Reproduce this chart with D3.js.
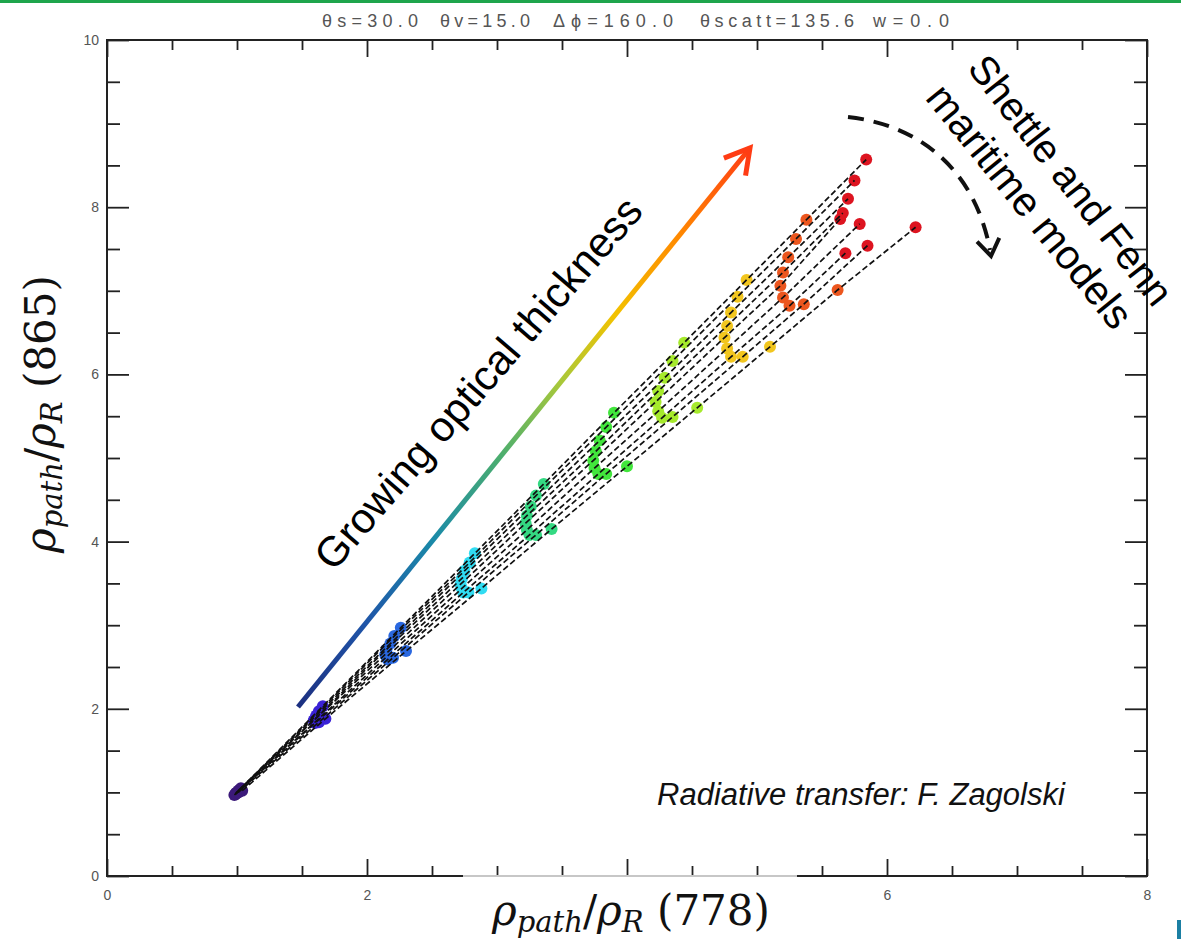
<!DOCTYPE html>
<html>
<head>
<meta charset="utf-8">
<script src="https://cdn.jsdelivr.net/npm/d3@7"></script>
<style>
  body { margin: 0; background: #fff; }
</style>
</head>
<body>
<div id="chart"></div>
<script>
// dot colour for each optical thickness level (low -> high)
var levelColors = ["#3c1a7a", "#3a22d6", "#2a68e0", "#30dcf2", "#34d982",
                   "#42e63c", "#a6ea2c", "#f2c61e", "#ec561e", "#dd1420"];

// one array per aerosol model: [rho778, rho865] at each optical thickness level
var model0 = [[1.03,1.05],[1.66,2.03],[2.26,2.97],[2.83,3.86],[3.36,4.69],[3.90,5.54],[4.44,6.38],[4.92,7.13],[5.38,7.85],[5.84,8.57]];
var model1 = [[1.02,1.03],[1.63,1.97],[2.21,2.87],[2.79,3.75],[3.30,4.55],[3.84,5.37],[4.35,6.16],[4.85,6.93],[5.30,7.62],[5.75,8.32]];
var model2 = [[1.01,1.02],[1.61,1.92],[2.18,2.78],[2.75,3.65],[3.26,4.42],[3.79,5.21],[4.29,5.96],[4.80,6.74],[5.24,7.40],[5.70,8.10]];
var model3 = [[1.00,1.00],[1.60,1.88],[2.15,2.71],[2.73,3.56],[3.23,4.31],[3.76,5.08],[4.24,5.80],[4.77,6.58],[5.20,7.22],[5.66,7.93]];
var model4 = [[0.99,0.99],[1.59,1.86],[2.14,2.65],[2.72,3.49],[3.22,4.22],[3.74,4.97],[4.22,5.67],[4.75,6.44],[5.18,7.06],[5.64,7.86]];
var model5 = [[0.98,0.97],[1.60,1.84],[2.15,2.62],[2.73,3.44],[3.23,4.14],[3.75,4.88],[4.24,5.56],[4.77,6.31],[5.20,6.92],[5.79,7.80]];
var model6 = [[0.99,0.98],[1.60,1.83],[2.16,2.59],[2.74,3.39],[3.25,4.08],[3.78,4.81],[4.27,5.48],[4.80,6.21],[5.25,6.82],[5.68,7.45]];
var model7 = [[1.01,1.00],[1.63,1.84],[2.20,2.61],[2.78,3.39],[3.30,4.08],[3.84,4.81],[4.35,5.49],[4.89,6.21],[5.36,6.84],[5.85,7.54]];
var model8 = [[1.04,1.02],[1.68,1.88],[2.30,2.69],[2.88,3.44],[3.42,4.15],[4.00,4.90],[4.54,5.60],[5.10,6.33],[5.62,7.01],[6.22,7.76]];
var models = [model0, model1, model2, model3, model4, model5, model6, model7, model8];

// ticks
var xMajor = [0, 2, 4, 6, 8];
var xMinor = [0.5, 1, 1.5, 2.5, 3, 3.5, 4.5, 5, 5.5, 6.5, 7, 7.5];
var yMajor = [0, 2, 4, 6, 8, 10];
var yMinor = [0.5, 1, 1.5, 2.5, 3, 3.5, 4.5, 5, 5.5, 6.5, 7, 7.5, 8.5, 9, 9.5];

// geometry title, one piece per parameter
var titleParts = ["\u03b8s=30.0", "\u03b8v=15.0", "\u0394\u03d5=160.0", "\u03b8scatt=135.6", "w=0.0"];
var titleStart = [322, 440, 553, 700, 873];
var titleWidth = [96, 90, 120, 154, 76];

var W = 1181, H = 939;
var svg = d3.select("#chart").append("svg")
    .attr("width", W).attr("height", H)
    .style("font-family", "'Liberation Sans', Arial, sans-serif");

var x = d3.scaleLinear().domain([0, 8]).range([107, 1147]);
var y = d3.scaleLinear().domain([0, 10]).range([876, 40]);

// green strip at top of slide
svg.append("rect").attr("x", 0).attr("y", 0).attr("width", W).attr("height", 3).attr("fill", "#1ea54c");
svg.append("rect").attr("x", 1177).attr("y", 920).attr("width", 4).attr("height", 19).attr("fill", "#1b7fa3");

// title
svg.append("g").selectAll("text")
    .data(titleParts)
    .enter().append("text")
    .attr("x", function (d, i) { return titleStart[i]; })
    .attr("y", 27)
    .attr("textLength", function (d, i) { return titleWidth[i]; })
    .attr("lengthAdjust", "spacing")
    .style("font-size", "18px").style("fill", "#555")
    .text(function (d) { return d; });

// dots
models.forEach(function (m) {
    svg.append("g").selectAll("circle")
        .data(m)
        .enter().append("circle")
        .attr("cx", function (d) { return x(d[0]); })
        .attr("cy", function (d) { return y(d[1]); })
        .attr("r", 6)
        .style("fill", function (d, i) { return levelColors[i]; });
});

// dashed model lines
var line = d3.line().x(function (d) { return x(d[0]); }).y(function (d) { return y(d[1]); });
models.forEach(function (m) {
    svg.append("path")
        .attr("d", line(m))
        .style("fill", "none")
        .style("stroke", "#111")
        .style("stroke-width", 1.7)
        .style("stroke-dasharray", "6,3");
});

// frame
svg.append("rect")
    .attr("x", x(0)).attr("y", y(10))
    .attr("width", x(8) - x(0)).attr("height", y(0) - y(10))
    .style("fill", "none").style("stroke", "#222").style("stroke-width", 2);

function styleAxis(g) {
    g.select(".domain").remove();
    g.selectAll("line").style("stroke", "#222").style("stroke-width", 1.8);
    g.selectAll("text").style("font-size", "14px").style("fill", "#555")
        .style("font-family", "'Liberation Sans', Arial, sans-serif");
}

svg.append("g").attr("transform", "translate(0," + y(0) + ")")
    .call(d3.axisBottom(x).tickValues(xMinor).tickSize(-10).tickFormat("")).call(styleAxis);
svg.append("g").attr("transform", "translate(0," + y(0) + ")")
    .call(d3.axisBottom(x).tickValues(xMajor).tickSize(-17).tickPadding(14).tickFormat(d3.format("d"))).call(styleAxis);
svg.append("g").attr("transform", "translate(0," + y(10) + ")")
    .call(d3.axisTop(x).tickValues(xMinor).tickSize(-10).tickFormat("")).call(styleAxis);
svg.append("g").attr("transform", "translate(0," + y(10) + ")")
    .call(d3.axisTop(x).tickValues(xMajor).tickSize(-17).tickFormat("")).call(styleAxis);

svg.append("g").attr("transform", "translate(" + x(0) + ",0)")
    .call(d3.axisLeft(y).tickValues(yMinor).tickSize(-13).tickFormat("")).call(styleAxis);
svg.append("g").attr("transform", "translate(" + x(0) + ",0)")
    .call(d3.axisLeft(y).tickValues(yMajor).tickSize(-22).tickPadding(8).tickFormat(d3.format("d"))).call(styleAxis);
svg.append("g").attr("transform", "translate(" + x(8) + ",0)")
    .call(d3.axisRight(y).tickValues(yMinor).tickSize(-13).tickFormat("")).call(styleAxis);
svg.append("g").attr("transform", "translate(" + x(8) + ",0)")
    .call(d3.axisRight(y).tickValues(yMajor).tickSize(-22).tickFormat("")).call(styleAxis);

// white box behind the x title, hiding part of the axis line and the "4"
svg.append("rect").attr("x", 463).attr("y", 875).attr("width", 334).attr("height", 2)
    .style("fill", "#fff").style("opacity", 0.75);
svg.append("rect").attr("x", 463).attr("y", 877).attr("width", 334).attr("height", 62)
    .style("fill", "#fff");

// axis titles
function mathLabel(g, num) {
    var t = g.append("text")
        .attr("text-anchor", "middle")
        .style("font-family", "'DejaVu Serif', serif")
        .style("font-size", "42px")
        .style("fill", "#111");
    t.append("tspan").style("font-style", "italic").text("\u03c1");
    t.append("tspan").style("font-style", "italic").style("font-size", "29px").attr("dy", 7).text("path");
    t.append("tspan").attr("dy", -7).text("/");
    t.append("tspan").style("font-style", "italic").text("\u03c1");
    t.append("tspan").style("font-style", "italic").style("font-size", "29px").attr("dy", 7).text("R");
    t.append("tspan").attr("dy", -7).text(" (" + num + ")");
}
mathLabel(svg.append("g").attr("transform", "translate(631,925)"), "778");
mathLabel(svg.append("g").attr("transform", "translate(55,414) rotate(-90)"), "865");

// growing optical thickness arrow
var a0 = [298, 707], a1 = [750, 148];
var grad = svg.append("defs").append("linearGradient")
    .attr("id", "grow").attr("gradientUnits", "userSpaceOnUse")
    .attr("x1", a0[0]).attr("y1", a0[1]).attr("x2", a1[0]).attr("y2", a1[1]);
[[0, "#1c2f80"], [0.15, "#1f55a8"], [0.3, "#1a8aa8"], [0.45, "#4cae6e"], [0.58, "#a8c83a"],
 [0.7, "#f2c200"], [0.84, "#ff8a00"], [1, "#ff3c14"]].forEach(function (s) {
    grad.append("stop").attr("offset", s[0]).attr("stop-color", s[1]);
});
svg.append("line")
    .attr("x1", a0[0]).attr("y1", a0[1]).attr("x2", a1[0]).attr("y2", a1[1])
    .style("stroke", "url(#grow)").style("stroke-width", 5);
var ang = Math.atan2(a1[1] - a0[1], a1[0] - a0[0]);
function arm(tip, a, da, len) {
    return [tip[0] - len * Math.cos(a + da), tip[1] - len * Math.sin(a + da)];
}
svg.append("path")
    .attr("d", "M" + arm(a1, ang, 0.52, 28) + "L" + a1 + "L" + arm(a1, ang, -0.52, 28))
    .style("fill", "none").style("stroke", "#ff3c14").style("stroke-width", 5);

svg.append("text")
    .attr("transform", "translate(478,383) rotate(-49.2)")
    .attr("text-anchor", "middle").attr("dy", "0.35em")
    .style("font-size", "42px").style("fill", "#000")
    .text("Growing optical thickness");

// Shettle and Fenn curved dashed arrow
var c0 = [848, 117], c1 = [920, 125], c2 = [975, 170], c3 = [990, 250];
svg.append("path")
    .attr("d", "M" + c0 + "C" + c1 + " " + c2 + " " + c3)
    .style("fill", "none").style("stroke", "#111").style("stroke-width", 4)
    .style("stroke-dasharray", "16,10");
var ang2 = Math.atan2(c3[1] - c2[1] + 6, c3[0] - c2[0]);
var tip2 = [c3[0] + 1, c3[1] + 6];
svg.append("path")
    .attr("d", "M" + arm(tip2, ang2, 0.6, 20) + "L" + tip2 + "L" + arm(tip2, ang2, -0.6, 20))
    .style("fill", "none").style("stroke", "#111").style("stroke-width", 4);

svg.append("text")
    .attr("transform", "translate(1071,180) rotate(52)")
    .attr("text-anchor", "middle").attr("dy", "0.35em")
    .style("font-size", "40px").style("fill", "#000")
    .text("Shettle and Fenn");
svg.append("text")
    .attr("transform", "translate(1030,206) rotate(51)")
    .attr("text-anchor", "middle").attr("dy", "0.35em")
    .style("font-size", "41px").style("fill", "#000")
    .text("maritime models");

svg.append("text")
    .attr("x", 861).attr("y", 805)
    .attr("text-anchor", "middle")
    .style("font-size", "31px").style("font-style", "italic").style("fill", "#111")
    .text("Radiative transfer: F. Zagolski");
</script>
</body>
</html>
